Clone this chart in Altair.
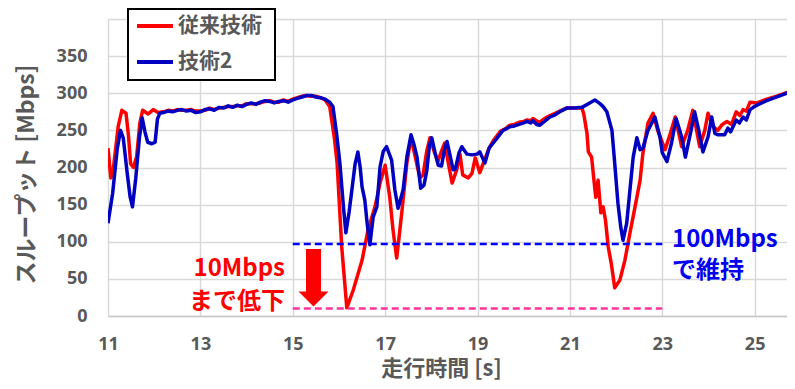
import altair as alt
import pandas as pd

# ---------------- data ----------------
series_names = ["従来技術", "技術2"]
series_colors = ["#ff0000", "#0000c0"]

red_time = [11.0, 11.06, 11.1, 11.22, 11.3, 11.39, 11.44, 11.49, 11.55, 11.62, 11.69, 11.75, 11.87, 11.98, 12.08,
            12.2, 12.3, 12.4, 12.5, 12.6, 12.7, 12.8, 12.9, 13.0, 13.1, 13.2, 13.3, 13.4, 13.5, 13.6, 13.7, 13.8, 13.9,
            14.0, 14.1, 14.2, 14.3, 14.4, 14.5, 14.6, 14.7, 14.8, 14.9, 15.0, 15.1, 15.2, 15.3, 15.4, 15.5, 15.6, 15.7,
            15.8, 15.9, 15.96, 16.06, 16.17, 16.31, 16.5, 16.63, 16.78, 16.89, 17.0, 17.1, 17.17, 17.25, 17.36, 17.47,
            17.56, 17.65, 17.75, 17.82, 17.9, 17.97, 18.07, 18.14, 18.22, 18.29, 18.37, 18.45, 18.55, 18.62, 18.68,
            18.8, 18.88, 18.95, 19.05, 19.15, 19.25, 19.35, 19.5, 19.6, 19.7, 19.8, 19.9, 20.0, 20.07, 20.15, 20.2,
            20.3, 20.35, 20.45, 20.57, 20.68, 20.78, 20.93, 21.1, 21.26, 21.3, 21.37, 21.4, 21.47, 21.52, 21.56, 21.61,
            21.67, 21.72, 21.77, 21.83, 21.9, 21.97, 22.08, 22.19, 22.3, 22.41, 22.52, 22.58, 22.69, 22.8, 22.9, 23.06,
            23.17, 23.28, 23.42, 23.55, 23.66, 23.81, 23.92, 23.99, 24.1, 24.2, 24.3, 24.4, 24.5, 24.6, 24.68, 24.75,
            24.82, 24.9, 25.05, 25.26, 25.48, 25.7, 25.87]
red_mbps = [226, 186, 190, 255, 277, 273, 245, 205, 200, 215, 260, 277, 272, 278, 274,
            275, 277, 276, 278, 277, 277, 278, 276, 276, 277, 280, 278, 280, 281, 282, 282, 283, 283,
            286, 286, 286, 287, 289, 290, 288, 288, 291, 289, 292, 294, 296, 297, 296, 296, 294, 291,
            282, 240, 206, 93, 11, 35, 75, 116, 147, 179, 203, 160, 116, 78, 139, 206,
            240, 215, 186, 190, 222, 240, 220, 208, 222, 233, 205, 179, 197, 218, 190,
            186, 192, 213, 193, 210, 226, 237, 249, 252, 257, 258, 261, 262, 264, 263, 266,
            262, 261, 266, 270, 273, 276, 280, 280, 280, 272, 246, 221, 214, 183, 160, 183,
            139, 147, 129, 93, 69, 38, 48, 75, 112, 147, 183, 219, 260, 273, 250, 224,
            245, 268, 228, 250, 277, 228, 250, 273, 255, 250, 258, 262, 258, 275, 270, 278,
            276, 288, 287, 292, 296, 301, 305]

blue_time = [11.0, 11.1, 11.2, 11.27, 11.33, 11.42, 11.48, 11.53, 11.6, 11.68, 11.74, 11.8, 11.86, 11.95, 12.02,
             12.07, 12.12,
             12.2, 12.3, 12.4, 12.5, 12.6, 12.7, 12.8, 12.9, 13.0, 13.1, 13.2, 13.3, 13.4, 13.5, 13.6, 13.7, 13.8,
             13.9, 14.0, 14.1, 14.2, 14.3, 14.4, 14.5, 14.6, 14.7, 14.8, 14.9, 15.0, 15.1, 15.2, 15.3, 15.4, 15.5,
             15.6, 15.7,
             15.8, 15.87, 15.95, 16.02, 16.1, 16.15, 16.22, 16.28, 16.35, 16.41, 16.46, 16.5, 16.56, 16.61, 16.67,
             16.74, 16.82, 16.89, 16.96, 17.03, 17.14, 17.21, 17.28, 17.39, 17.47, 17.56, 17.62, 17.69, 17.77,
             17.84, 17.9, 17.96, 18.01, 18.08, 18.15, 18.22, 18.29, 18.34, 18.41, 18.47, 18.52, 18.6, 18.66,
             18.77, 18.88, 18.99, 19.05, 19.1, 19.16, 19.25, 19.34, 19.44, 19.55, 19.62, 19.7, 19.8, 19.9, 20.0,
             20.07, 20.15, 20.2, 20.28, 20.35, 20.45, 20.57, 20.68, 20.78, 20.93, 21.1, 21.26, 21.4, 21.54, 21.65,
             21.72, 21.8, 21.91, 21.97, 22.04, 22.1, 22.15, 22.23, 22.3, 22.37, 22.45, 22.52, 22.58, 22.69, 22.84,
             22.95, 23.0, 23.1, 23.2, 23.3, 23.42, 23.5, 23.64, 23.7, 23.79, 23.88, 23.99, 24.07, 24.14, 24.2,
             24.35, 24.42, 24.48, 24.6, 24.67, 24.75, 24.82, 24.9, 24.97, 25.05, 25.26, 25.48, 25.7, 25.87]
blue_mbps = [125, 165, 225, 250, 240, 190, 160, 147, 185, 240, 267, 248, 234, 232, 234,
             265, 273,
             274, 276, 275, 277, 278, 276, 277, 274, 275, 278, 279, 277, 281, 280, 283, 281, 284,
             282, 285, 287, 285, 288, 290, 289, 287, 289, 290, 288, 291, 293, 295, 297, 297, 295,
             294, 292,
             288, 282, 245, 206, 145, 112, 140, 170, 205, 221, 200, 174, 156, 125, 96,
             133, 147, 201, 222, 228, 210, 170, 145, 170, 214, 244, 232, 214, 172,
             176, 195, 230, 240, 220, 203, 202, 226, 235, 215, 197, 198, 220, 228,
             218, 217, 218, 221, 214, 206, 226, 233, 241, 250, 252, 255, 256, 258, 260,
             262, 260, 263, 258, 257, 262, 268, 271, 275, 280, 280, 281, 286, 291, 286,
             282, 275, 250, 206, 152, 120, 102, 125, 170, 214, 240, 224, 226, 250, 268,
             241, 220, 208, 233, 266, 241, 214, 255, 275, 250, 221, 241, 268, 246, 244,
             244, 253, 248, 264, 260, 268, 264, 278, 281, 284, 290, 295, 300, 304]

x_ticks = [11, 13, 15, 17, 19, 21, 23, 25]
y_ticks = [0, 50, 100, 150, 200, 250, 300, 350, 400]
x_range = [11, 25.7]
y_range = [0, 400]

# reference levels (Mbps) and span (s)
level_keep = 97
level_drop = 10
level_span = [15, 23]
note_drop = ["10Mbps", "まで低下"]
note_keep = ["100Mbps", "で維持"]

assert len(red_time) == len(red_mbps)
assert len(blue_time) == len(blue_mbps)

red_df = pd.DataFrame({"t": red_time, "v": red_mbps, "s": series_names[0]})
blue_df = pd.DataFrame({"t": blue_time, "v": blue_mbps, "s": series_names[1]})
lvl_df = pd.DataFrame({"t": [level_span[0]], "t2": [level_span[1]],
                       "keep": [level_keep], "drop": [level_drop]})

GRAY = "#595959"
JP = "Noto Sans CJK JP"

x_scale = alt.Scale(domain=x_range, nice=False, zero=False)
y_scale = alt.Scale(domain=y_range, nice=False)

x_axis = alt.Axis(values=x_ticks, tickCount=8, grid=True, gridColor="#d9d9d9", gridWidth=1.5,
                  domain=True, domainColor="#c8c8c8", domainWidth=1.5, ticks=False,
                  labelFont="Noto Sans", labelFontSize=18, labelFontWeight="bold",
                  labelColor=GRAY, labelPadding=19, labelFlush=False, labelOverlap=False,
                  title="走行時間 [s]", titleFont=JP, titleFontSize=22,
                  titleFontWeight="bold", titleColor=GRAY, titleX=333, titleY=52,
                  titleBaseline="middle", titleAlign="center")
y_axis = alt.Axis(values=y_ticks, tickCount=9, grid=True, gridColor="#d9d9d9", gridWidth=1.5,
                  domain=False, ticks=False, labelOverlap=False, labelFlush=False,
                  labelExpr="datum.value == 400 ? '' : datum.label",
                  labelFont="Noto Sans", labelFontSize=18, labelFontWeight="bold",
                  labelColor=GRAY, labelPadding=21,
                  title="スループット [Mbps]", titleFont=JP, titleFontSize=23,
                  titleFontWeight="bold", titleColor=GRAY, titleX=-82, titleY=155,
                  titleAngle=270, titleBaseline="middle", titleAlign="center")

x_enc = alt.X("t:Q", scale=x_scale, axis=x_axis, title="走行時間 [s]")
y_enc = alt.Y("v:Q", scale=y_scale, axis=y_axis, title="スループット [Mbps]")

red_line = alt.Chart(red_df).mark_line(color=series_colors[0], strokeWidth=3.5, clip=True,
                                       strokeJoin="round").encode(x=x_enc, y=y_enc)
blue_line = alt.Chart(blue_df).mark_line(color=series_colors[1], strokeWidth=3.5, clip=True,
                                         strokeJoin="round").encode(x=x_enc, y=y_enc)

keep_rule = alt.Chart(lvl_df).mark_rule(color="#0000ff", strokeWidth=2.5, strokeDash=[7, 4]).encode(
    x=alt.X("t:Q", scale=x_scale, axis=x_axis, title="走行時間 [s]"), x2="t2:Q",
    y=alt.Y("keep:Q", scale=y_scale, axis=y_axis, title="スループット [Mbps]"))
drop_rule = alt.Chart(lvl_df).mark_rule(color="#ff3399", strokeWidth=2.5, strokeDash=[7, 4]).encode(
    x=alt.X("t:Q", scale=x_scale, axis=x_axis, title="走行時間 [s]"), x2="t2:Q",
    y=alt.Y("drop:Q", scale=y_scale, axis=y_axis, title="スループット [Mbps]"))

one = pd.DataFrame({"k": [0]})

# arrow
arrow_shaft = alt.Chart(one).mark_rect(color="#ff0000").encode(
    x=alt.value(198), x2=alt.value(213), y=alt.value(230), y2=alt.value(274))
arrow_head = alt.Chart(one).mark_point(shape="M-1,-0.5L1,-0.5L0,0.5Z", size=900, filled=True,
                                       color="#ff0000", opacity=1, strokeWidth=0).encode(
    x=alt.value(205.5), y=alt.value(280))

def note(text, x, y, color, align):
    return alt.Chart(pd.DataFrame({"label": [text]})).mark_text(
        font=JP, fontSize=24, fontWeight="bold", color=color, align=align, baseline="middle"
    ).encode(x=alt.value(x), y=alt.value(y), text="label:N")

notes = [note(note_drop[0], 177, 250, "#ff0000", "right"),
         note(note_drop[1], 177, 283, "#ff0000", "right"),
         note(note_keep[0], 564, 221, "#0000ee", "left"),
         note(note_keep[1], 564, 252, "#0000ee", "left")]

# legend box
legend_box = alt.Chart(one).mark_rect(fill="white", stroke="black", strokeWidth=2).encode(
    x=alt.value(20), x2=alt.value(167), y=alt.value(-10), y2=alt.value(61))
legend_layers = [legend_box]
for i, (name, col) in enumerate(zip(series_names, series_colors)):
    yy = 7 + 36 * i
    legend_layers.append(alt.Chart(one).mark_rule(color=col, strokeWidth=4).encode(
        x=alt.value(29), x2=alt.value(65), y=alt.value(yy)))
    legend_layers.append(alt.Chart(pd.DataFrame({"label": [name]})).mark_text(
        font=JP, fontSize=21, fontWeight="bold", color=GRAY, align="left", baseline="middle"
    ).encode(x=alt.value(70), y=alt.value(yy), text="label:N"))

chart = alt.layer(red_line, blue_line, keep_rule, drop_rule, arrow_shaft, arrow_head,
                  *notes, *legend_layers).properties(
    width=679, height=297,
    padding={"left": 100, "top": 11, "right": 0, "bottom": 65},
    autosize=alt.AutoSizeParams(type="none"),
    background="white",
).configure_view(stroke=None).configure_axis(labelOverlap=False)

chart.save("out.html", embed_options={"renderer": "svg", "actions": False})
